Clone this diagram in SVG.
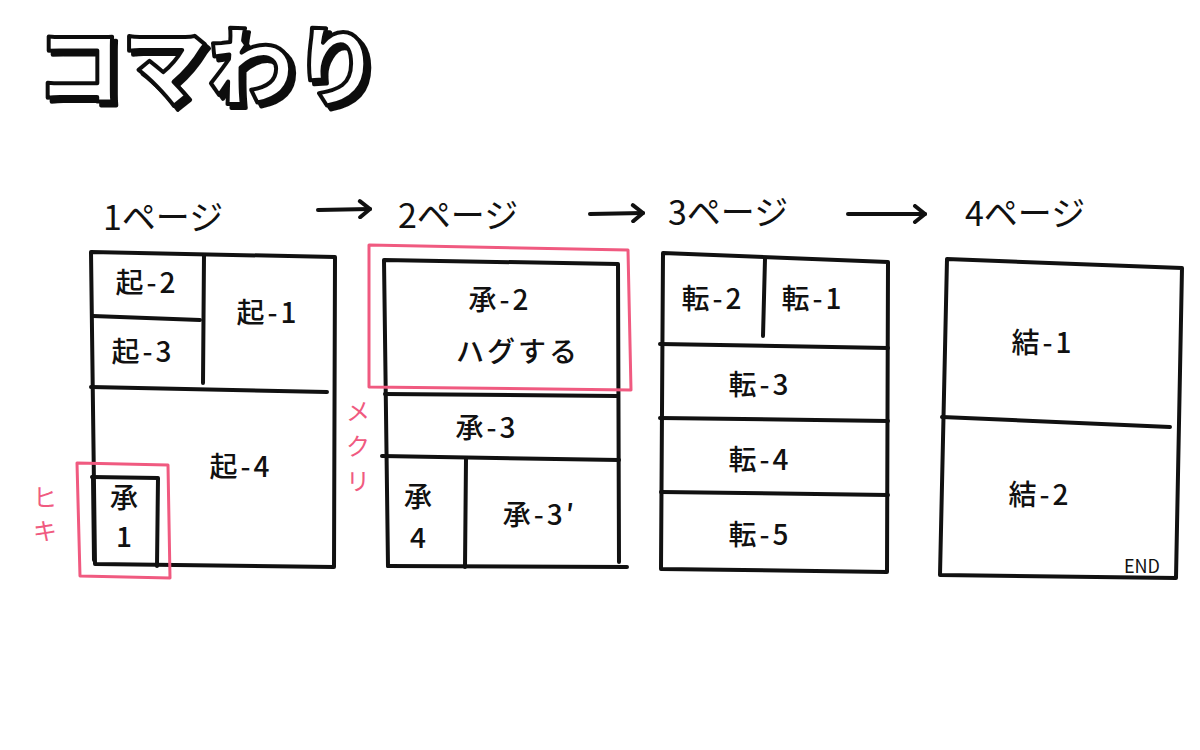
<svg xmlns="http://www.w3.org/2000/svg" width="1200" height="750" viewBox="0 0 1200 750">
<defs>
<style>
.ln{fill:none;stroke:#111;stroke-width:4;stroke-linecap:round;stroke-linejoin:round}
.pk{fill:none;stroke:#f05a80;stroke-width:3;stroke-linejoin:round}
.lb{font-family:"Noto Sans CJK JP","Noto Sans",sans-serif;font-size:28px;font-weight:500;fill:#111;text-anchor:middle;letter-spacing:3px}
.pg{font-family:"Noto Sans CJK JP","Noto Sans",sans-serif;font-size:34px;fill:#111;letter-spacing:0px}
.pt{font-family:"Noto Sans CJK JP","Noto Sans",sans-serif;font-size:24px;fill:#f05a80;text-anchor:middle}
.ti{font-family:"Noto Sans CJK JP","Noto Sans",sans-serif;font-weight:900;font-size:86px}
</style>
<filter id="sh" x="-5%" y="-5%" width="115%" height="125%">
<feDropShadow dx="4" dy="4" stdDeviation="0" flood-color="#111"/>
</filter>
<marker id="ah" viewBox="0 0 20 20" refX="18" refY="10" markerWidth="20" markerHeight="20" markerUnits="userSpaceOnUse" orient="auto">
<polyline points="8,2 18,10 8,18" fill="none" stroke="#111" stroke-width="4" stroke-linecap="round" stroke-linejoin="round"/>
</marker>
</defs>
<rect width="1200" height="750" fill="#fff"/>
<g id="title">
<text class="ti" x="36" y="99" fill="#fff" stroke="#111" stroke-width="4" stroke-linejoin="round" filter="url(#sh)">コマわり</text>
</g>
<g id="connectors">
<path class="ln" d="M318,210 L370,209" marker-end="url(#ah)"/>
<path class="ln" d="M590,214 L643,213" marker-end="url(#ah)"/>
<path class="ln" d="M848,214 L925,214" marker-end="url(#ah)"/>
</g>
<g id="page1">
<text class="pg" x="103" y="230">1ページ</text>
<path class="ln" d="M91,252 L335,257 L334,567 L95,564 Z"/>
<path class="ln" d="M204,255 L203,383"/>
<path class="ln" d="M93,316 L200,320"/>
<path class="ln" d="M91,387 L327,392"/>
<path class="ln" d="M92,477 L158,478 L157,566"/>
<path class="ln" d="M93,477 L94,560"/>
<text class="lb" x="147" y="293">起-2</text>
<text class="lb" x="268" y="323">起-1</text>
<text class="lb" x="143" y="362">起-3</text>
<text class="lb" x="241" y="477">起-4</text>
<text class="lb" x="124" y="508" style="letter-spacing:0">承</text>
<text class="lb" x="124" y="547" style="letter-spacing:0">1</text>
</g>
<g id="hiki">
<path class="pk" d="M77,463 L168,465 L170,578 L80,576 Z"/>
<text class="pt" x="45" y="506">ヒ</text>
<text class="pt" x="45" y="540">キ</text>
</g>
<g id="page2">
<text class="pg" x="398" y="228">2ページ</text>
<path class="ln" d="M388,566 L384,260 L618,264 L619,562"/>
<path class="ln" d="M388,566 L627,567"/>
<path class="ln" d="M385,394 L617,396"/>
<path class="ln" d="M382,456 L619,460"/>
<path class="ln" d="M466,459 L465,567"/>
<text class="lb" x="500" y="310">承-2</text>
<text class="lb" x="518" y="362">ハグする</text>
<text class="lb" x="487" y="438">承-3</text>
<text class="lb" x="418" y="507" style="letter-spacing:0">承</text>
<text class="lb" x="418" y="548" style="letter-spacing:0">4</text>
<text class="lb" x="540" y="525">承-3′</text>
</g>
<g id="mekuri">
<path class="pk" d="M369,245 L628,250 L631,390 L369,387 Z"/>
<text class="pt" x="358" y="420">メ</text>
<text class="pt" x="358" y="455">ク</text>
<text class="pt" x="358" y="490">リ</text>
</g>
<g id="page3">
<text class="pg" x="668" y="225">3ページ</text>
<path class="ln" d="M663,253 L888,262 L887,572 L661,569 Z"/>
<path class="ln" d="M765,259 L763,336"/>
<path class="ln" d="M660,344 L888,348"/>
<path class="ln" d="M660,418 L888,421"/>
<path class="ln" d="M661,492 L888,495"/>
<text class="lb" x="713" y="309">転-2</text>
<text class="lb" x="813" y="309">転-1</text>
<text class="lb" x="760" y="395">転-3</text>
<text class="lb" x="760" y="470">転-4</text>
<text class="lb" x="760" y="545">転-5</text>
</g>
<g id="page4">
<text class="pg" x="965" y="226">4ページ</text>
<path class="ln" d="M947,259 L1182,268 L1176,578 L940,575 L947,259"/>
<path class="ln" d="M942,417 L1170,427"/>
<text class="lb" x="1043" y="353">結-1</text>
<text class="lb" x="1040" y="505">結-2</text>
<text x="1142" y="573" style="font-family:'Noto Sans CJK JP',sans-serif;font-size:18px;fill:#111;text-anchor:middle">END</text>
</g>
</svg>
